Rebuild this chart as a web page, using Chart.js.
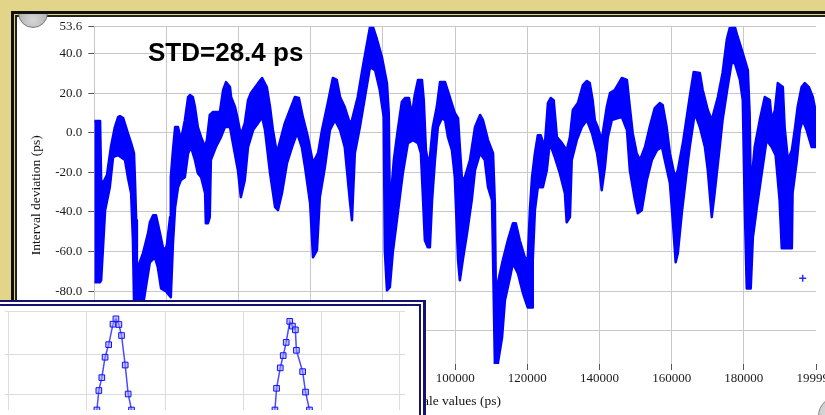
<!DOCTYPE html>
<html>
<head>
<meta charset="utf-8">
<script src="https://cdn.jsdelivr.net/npm/chart.js@4.4.1/dist/chart.umd.min.js"></script>
<style>
  html, body { margin: 0; padding: 0; width: 825px; height: 415px; overflow: hidden; background: #e2d488; }
  .abs { position: absolute; }
  #outerRule { left: 11px; top: 11px; width: 830px; height: 420px; border-left: 3px solid #111; border-top: 3px solid #111; box-sizing: border-box; }
  #innerRule { left: 15px; top: 15px; width: 830px; height: 420px; border-left: 2px solid #222; border-top: 2px solid #222; background: #fff; box-sizing: border-box; }
  #mainChart { left: 17px; top: 17px; }
  #std { left: 148px; top: 39px; font: bold 26px/26px "Liberation Sans", Arial, sans-serif; color: #000; white-space: nowrap; }
  #knobClip { left: 0; top: 14px; width: 60px; height: 20px; overflow: hidden; }
  #knobTL { left: 18px; top: -16px; width: 30px; height: 30px; border-radius: 50%; background: radial-gradient(circle at 50% 75%, #d6d6d6, #9c9c9c); border: 1px solid #777; box-sizing: border-box; }
  #knobBR { left: 818px; top: 396px; width: 40px; height: 40px; border-radius: 50%; background: radial-gradient(circle at 30% 40%, #dedede, #a8a8a8); border: 1px solid #888; box-sizing: border-box; }
  #insetFill { left: 0; top: 302px; width: 423px; height: 113px; background: #fff; }
  #insetTopA { left: 0; top: 300px; width: 426px; height: 2px; background: #14146e; }
  #insetTopB { left: 0; top: 304px; width: 421px; height: 2px; background: #14146e; }
  #insetRightA { left: 423px; top: 300px; width: 3px; height: 115px; background: #14146e; }
  #insetRightB { left: 419px; top: 304px; width: 2px; height: 111px; background: #14146e; }
  #insetChart { left: 0; top: 306px; }
</style>
</head>
<body>
<div id="outerRule" class="abs"></div>
<div id="innerRule" class="abs"></div>
<canvas id="mainChart" class="abs" width="808" height="398"></canvas>
<div id="knobClip" class="abs"><div id="knobTL" class="abs"></div></div>
<div id="knobBR" class="abs"></div>
<div id="std" class="abs">STD=28.4 ps</div>
<div id="insetFill" class="abs"></div>
<canvas id="insetChart" class="abs" width="419" height="109"></canvas>
<div id="insetTopA" class="abs"></div>
<div id="insetTopB" class="abs"></div>
<div id="insetRightA" class="abs"></div>
<div id="insetRightB" class="abs"></div>
<script>
// Interval deviation record: the fast jitter fills a band, so the series
// is stored as its upper and lower envelope [scale value (ps), deviation (ps)].
const upperEnvelope = [
  [0, 5.9], [1600, 5.9], [1900, -23.9], [2400, -25.4], [3500, -21.4], [4600, -7.2],
  [5700, 2.9], [6600, 7.9], [7100, 8.4], [8000, 7.4], [9300, -0.2], [10200, -5.2],
  [11000, -10.3], [11300, -25.4], [11600, -44.2], [11800, -68.4], [12100, -67.9],
  [13500, -60.8], [14900, -50.7], [15400, -45.2], [16300, -41.6], [17100, -41.6],
  [18200, -50.7], [19000, -57.8], [19600, -59.3], [20100, -56.8], [21000, -42.6],
  [21200, -22.4], [21800, -8.8], [22400, 2.9], [23200, 2.9], [24000, -3.7],
  [25100, 6.4], [26000, 18.1], [26500, 19.1], [27300, 18.1], [27900, 13.0],
  [28700, 2.9], [29600, -2.2], [30700, -7.2], [31200, -3.7], [32000, 9.0],
  [32900, 10.5], [34800, 10.5], [35700, 21.6], [36500, 25.6], [37600, 23.1],
  [37900, 18.1], [39000, 13.0], [39800, 6.4], [40600, -1.2], [41700, 4.9],
  [42600, 16.5], [43400, 20.1], [45400, 25.1], [46500, 27.7], [47800, 23.1],
  [48700, 13.0], [49500, 1.4], [50600, -10.3], [52800, 4.9], [54200, 11.5],
  [55600, 18.1], [56700, 17.6], [57800, 7.9], [59200, -2.2], [60600, -15.3],
  [62000, -10.3], [63100, 1.4], [64700, 15.0], [66100, 27.7], [67200, 26.7],
  [68100, 18.1], [69400, 13.0], [70800, 4.9], [71400, 6.4], [73000, 18.1],
  [74400, 33.2], [75800, 47.4], [76400, 53.5], [77200, 53.6], [78300, 47.4],
  [79700, 38.3], [81100, 25.1], [81600, 10.0], [81900, -39.1], [83000, -13.8],
  [84100, 1.4], [85200, 15.5], [86100, 17.6], [87200, 17.6], [88000, 9.0],
  [88800, 19.1], [89700, 26.7], [90800, 26.7], [91300, 16.5], [91900, -8.8],
  [92400, -13.8], [93000, -12.3], [93800, 2.9], [94900, 13.0], [95800, 25.6],
  [97200, 25.6], [98500, 18.1], [99900, 10.0], [100800, 7.4], [101300, -7.2],
  [101900, -23.9], [102700, -22.4], [104100, -13.8], [105500, 2.9], [106900, 9.0],
  [107700, 6.4], [109100, -3.7], [110500, -10.3], [111000, -35.6], [111300, -84.6],
  [111800, -76.0], [113200, -64.4], [114600, -54.3], [116000, -45.7], [116800, -45.7],
  [117900, -54.3], [119300, -62.9], [120100, -64.4], [120700, -39.1], [121300, -22.4],
  [122100, -10.3], [122900, -1.2], [123700, -1.2], [124800, -7.2], [125700, 15.0],
  [126500, 17.6], [127300, 16.5], [128200, -2.2], [129600, -5.2], [130900, -8.8],
  [131800, -2.2], [132600, 11.5], [134000, 15.0], [135400, 24.1], [136500, 26.2],
  [137300, 25.1], [138100, 16.5], [138700, 6.4], [139500, 2.9], [140600, -3.7],
  [142000, 13.0], [142900, 20.1], [144200, 21.6], [146200, 27.7], [147600, 26.7],
  [148400, 13.0], [149200, -0.2], [150300, -10.3], [151200, -13.8], [152600, -7.2],
  [153900, 2.9], [155300, 12.5], [156700, 15.0], [157500, 14.0], [158600, 2.9],
  [159500, -10.3], [160900, -22.4], [161700, -18.9], [163100, -5.2], [165000, 18.1],
  [166100, 30.7], [167800, 30.2], [168600, 21.6], [170000, 11.5], [171100, 6.4],
  [172800, 18.1], [174100, 30.2], [175300, 47.4], [176100, 53.0], [177500, 53.5],
  [178300, 48.4], [179700, 40.3], [181100, 31.7], [181600, 10.0], [181900, -29.0],
  [183000, -7.2], [184400, 6.4], [185800, 18.1], [187200, 16.5], [187700, 6.4],
  [188600, 11.5], [189400, 25.1], [190800, 23.1], [191300, 2.9], [192200, -13.8],
  [193300, -8.8], [194100, 1.4], [194900, 13.0], [196000, 23.1], [196900, 25.1],
  [198000, 23.1], [199100, 18.1], [199990, 10.0]
];

const lowerEnvelope = [
  [0, -75.5], [1600, -75.5], [1900, -74.5], [3000, -39.1], [4300, -27.5], [5200, -12.3],
  [6600, -11.3], [7400, -12.3], [8500, -13.8], [9300, -22.4], [10200, -30.5],
  [10700, -54.3], [11000, -84.6], [11800, -89.7], [13500, -87.2], [14600, -74.5],
  [15400, -65.4], [16800, -62.9], [17600, -67.9], [18500, -78.6], [19900, -80.1],
  [21200, -83.1], [21800, -55.8], [22400, -37.6], [23200, -27.5], [24000, -23.9],
  [25100, -22.4], [26000, -10.3], [26800, -7.2], [27900, -13.8], [28700, -20.4],
  [29600, -22.4], [30700, -30.5], [30900, -45.7], [31500, -45.7], [32000, -42.6],
  [32300, -13.8], [33700, -7.2], [35100, -2.2], [36200, 2.9], [37600, 2.9],
  [38400, -5.2], [39800, -18.9], [40600, -32.5], [41700, -23.9], [42600, -7.2],
  [44000, 1.4], [45400, 4.9], [46500, 7.9], [47300, 1.4], [48700, -20.4],
  [50100, -37.6], [50900, -39.1], [52000, -30.5], [53400, -15.3], [54800, -7.2],
  [56200, -0.2], [57500, -7.2], [58400, -17.4], [59800, -35.6], [60600, -62.9],
  [61700, -59.3], [62500, -32.5], [63900, -17.4], [65300, 1.4], [66700, 6.4],
  [68100, 1.4], [69400, -7.2], [70800, -34.0], [71400, -44.2], [72200, -10.3],
  [73600, 2.9], [75000, 18.1], [76400, 33.2], [77800, 31.7], [79100, 21.6],
  [80200, 7.9], [80500, -59.3], [81100, -79.6], [81900, -78.0], [82700, -60.8],
  [84100, -40.6], [85500, -20.4], [86900, -5.2], [88300, -3.7], [89700, -5.2],
  [90500, -10.3], [91100, -34.0], [91600, -54.3], [92400, -57.8], [93000, -57.8],
  [93600, -34.0], [94400, -13.8], [95200, 2.9], [96300, 7.4], [97200, 6.4],
  [98000, -2.2], [99100, -8.8], [99900, -22.4], [100800, -64.4], [101300, -74.5],
  [102100, -64.4], [103300, -50.7], [104600, -34.0], [105500, -18.9], [106900, -10.3],
  [108200, -13.8], [109100, -27.5], [110200, -34.0], [110700, -84.6], [111000, -116.8],
  [111800, -116.8], [113000, -103.3], [113800, -84.6], [115200, -73.0], [116000, -65.9],
  [117400, -71.0], [118800, -81.1], [120100, -88.2], [121300, -88.2], [121500, -64.4],
  [122100, -39.1], [122900, -27.5], [124300, -27.5], [125400, -18.9], [126200, -5.2],
  [127600, -12.3], [129000, -20.4], [130400, -30.5], [130900, -45.2], [131800, -42.6],
  [132300, -13.8], [133700, -3.7], [135100, 2.9], [136500, 6.4], [137900, -0.2],
  [139300, -10.3], [140100, -20.4], [140600, -29.0], [141500, -17.4], [142300, -2.2],
  [143400, 6.4], [145100, 7.4], [146200, 7.9], [147600, 1.4], [148400, -18.9],
  [149800, -34.0], [150600, -40.6], [151700, -39.1], [153100, -23.9], [154500, -13.8],
  [155900, -8.8], [157300, -7.2], [158100, -13.8], [159500, -25.4], [160300, -44.2],
  [161100, -65.4], [161700, -60.8], [162800, -40.6], [164200, -18.9], [165000, -7.2],
  [166400, 10.0], [167800, 2.9], [169200, -7.2], [170000, -18.9], [171100, -42.6],
  [171900, -30.5], [173300, -7.2], [174100, 6.4], [175500, 23.1], [176600, 35.3],
  [177500, 35.3], [178900, 26.7], [179700, 16.5], [180200, -34.0], [180800, -78.6],
  [181900, -78.6], [182500, -52.8], [183600, -37.6], [184400, -27.5], [185200, -17.4],
  [186300, -3.7], [187700, -7.2], [188800, -11.3], [189900, -34.0], [190500, -58.3],
  [193300, -58.3], [193500, -30.5], [194700, -13.8], [195500, 1.4], [196300, 6.4],
  [197400, 1.4], [198800, -7.2], [199990, -7.2]
];

// Cursor readout left on the plot
const cursorPoint = [[196300, -73.5]];

// Axis ticks: the end values are the data extremes
const sampleTicks = [0, 20000, 40000, 60000, 80000, 100000, 120000, 140000, 160000, 180000, 199990];
const deviationTicks = [-116.8, -100, -80, -60, -40, -20, 0, 20, 40, 53.6];

// Histogram window: two peaks, [bin (ps), count]
const peakLeft = [
  [51.27, 162.8], [51.52, 210.9], [51.90, 242.6], [52.32, 293.0], [52.78, 324.0], [53.33, 374.4],
  [53.71, 387.7], [54.09, 373.7], [54.43, 346.5], [54.90, 273.7], [55.28, 202.3], [55.71, 162.8]
];
const peakRight = [
  [74.09, 162.8], [74.30, 216.3], [74.77, 266.7], [75.15, 297.0], [75.53, 329.5], [75.99, 381.4],
  [76.33, 369.8], [76.71, 360.5], [76.84, 310.0], [77.64, 257.4], [78.01, 207.0], [78.52, 162.8]
];
const binTicks = [40, 50, 60, 70, 80, 90];
const countTicks = [200, 300, 407];

const toXY = pts => pts.map(([x, y]) => ({ x, y }));
const serif = 'Liberation Serif, Times New Roman, serif';
const BLUE = '#0000ff';

// Paints the region between the upper (dataset 0) and lower (dataset 1) envelopes
const envelopeBand = {
  id: 'envelopeBand',
  beforeDatasetsDraw(chart) {
    const up = chart.getDatasetMeta(0).data;
    const lo = chart.getDatasetMeta(1).data;
    const { ctx, chartArea: a } = chart;
    ctx.save();
    ctx.beginPath();
    ctx.rect(a.left, a.top, a.right - a.left, a.bottom - a.top);
    ctx.clip();
    ctx.beginPath();
    up.forEach((p, i) => (i ? ctx.lineTo(p.x, p.y) : ctx.moveTo(p.x, p.y)));
    for (let i = lo.length - 1; i >= 0; i--) ctx.lineTo(lo[i].x, lo[i].y);
    ctx.closePath();
    ctx.fillStyle = BLUE;
    ctx.fill('nonzero');
    ctx.restore();
  }
};

new Chart(document.getElementById('mainChart'), {
  type: 'line',
  data: {
    datasets: [
      {
        data: toXY(upperEnvelope), borderColor: BLUE, borderWidth: 2.5,
        borderJoinStyle: 'round', pointRadius: 0, fill: false, tension: 0
      },
      {
        data: toXY(lowerEnvelope), borderColor: BLUE, borderWidth: 2.5,
        borderJoinStyle: 'round', pointRadius: 0, fill: false, tension: 0
      },
      {
        data: toXY(cursorPoint), showLine: false, pointStyle: 'cross', pointRadius: 3.5,
        pointBorderColor: '#2a2aff', pointBorderWidth: 1.5
      }
    ]
  },
  plugins: [envelopeBand],
  options: {
    responsive: false, animation: false, events: [],
    layout: { padding: { left: 0, top: 9.7, right: 9, bottom: 0 } },
    plugins: { legend: { display: false }, tooltip: { enabled: false } },
    scales: {
      x: {
        type: 'linear', min: 0, max: 199990,
        afterBuildTicks: s => { s.ticks = sampleTicks.map(v => ({ value: v })); },
        afterFit: s => { s.height = 51; s.paddingLeft = 0; s.paddingRight = 0; },
        ticks: {
          autoSkip: false, maxRotation: 0, padding: 1, color: '#1a1a1a',
          font: { family: serif, size: 13 }, callback: v => String(v)
        },
        grid: {
          color: c => (c.tick && c.tick.value === 199990) ? 'rgba(0,0,0,0)' : '#c8c8c8',
          tickColor: '#555', tickLength: 6, lineWidth: 1
        },
        border: { display: false },
        title: {
          display: true, text: 'Scale values (ps)', color: '#111',
          font: { family: serif, size: 13.5 }, padding: { top: 0, bottom: 5.9 }
        }
      },
      y: {
        type: 'linear', min: -116.8, max: 53.6,
        afterBuildTicks: s => { s.ticks = deviationTicks.map(v => ({ value: v })); },
        afterFit: s => { s.width = 77.3; s.paddingTop = 0; s.paddingBottom = 0; },
        ticks: {
          padding: 6, color: '#1a1a1a', font: { family: serif, size: 13 },
          callback: v => Number(v).toFixed(1)
        },
        grid: {
          color: c => (c.tick && c.tick.value === -116.8) ? 'rgba(0,0,0,0)' : '#c8c8c8',
          tickColor: '#555', tickLength: 6, lineWidth: 1
        },
        border: { display: false },
        title: {
          display: true, text: 'Interval deviation (ps)', color: '#111',
          font: { family: serif, size: 13.5 }, padding: { top: 10.9, bottom: 0 }
        }
      }
    }
  }
});

const peakStyle = {
  borderColor: '#4b4bff', borderWidth: 1.5, pointStyle: 'rect', pointRadius: 4,
  pointBorderColor: '#1010ff', pointBackgroundColor: 'rgba(150,150,255,0.55)', pointBorderWidth: 1,
  fill: false, tension: 0
};

new Chart(document.getElementById('insetChart'), {
  type: 'line',
  data: {
    datasets: [
      Object.assign({ data: toXY(peakLeft) }, peakStyle),
      Object.assign({ data: toXY(peakRight) }, peakStyle)
    ]
  },
  options: {
    responsive: false, animation: false, events: [],
    layout: { padding: { left: 0, top: 4, right: 14, bottom: 0 } },
    plugins: { legend: { display: false }, tooltip: { enabled: false } },
    scales: {
      x: {
        type: 'linear', min: 39.494, max: 90.759,
        afterBuildTicks: s => { s.ticks = binTicks.map(v => ({ value: v })); },
        afterFit: s => { s.height = 0; s.paddingLeft = 0; s.paddingRight = 0; },
        ticks: { display: false },
        grid: { color: '#dcdcdc', drawTicks: false, lineWidth: 1 },
        border: { display: false }
      },
      y: {
        type: 'linear', min: 162.8, max: 407,
        afterBuildTicks: s => { s.ticks = countTicks.map(v => ({ value: v })); },
        afterFit: s => { s.width = 0; s.paddingTop = 0; s.paddingBottom = 0; },
        ticks: { display: false },
        grid: { color: '#dcdcdc', drawTicks: false, lineWidth: 1 },
        border: { display: false }
      }
    }
  }
});
</script>
</body>
</html>
